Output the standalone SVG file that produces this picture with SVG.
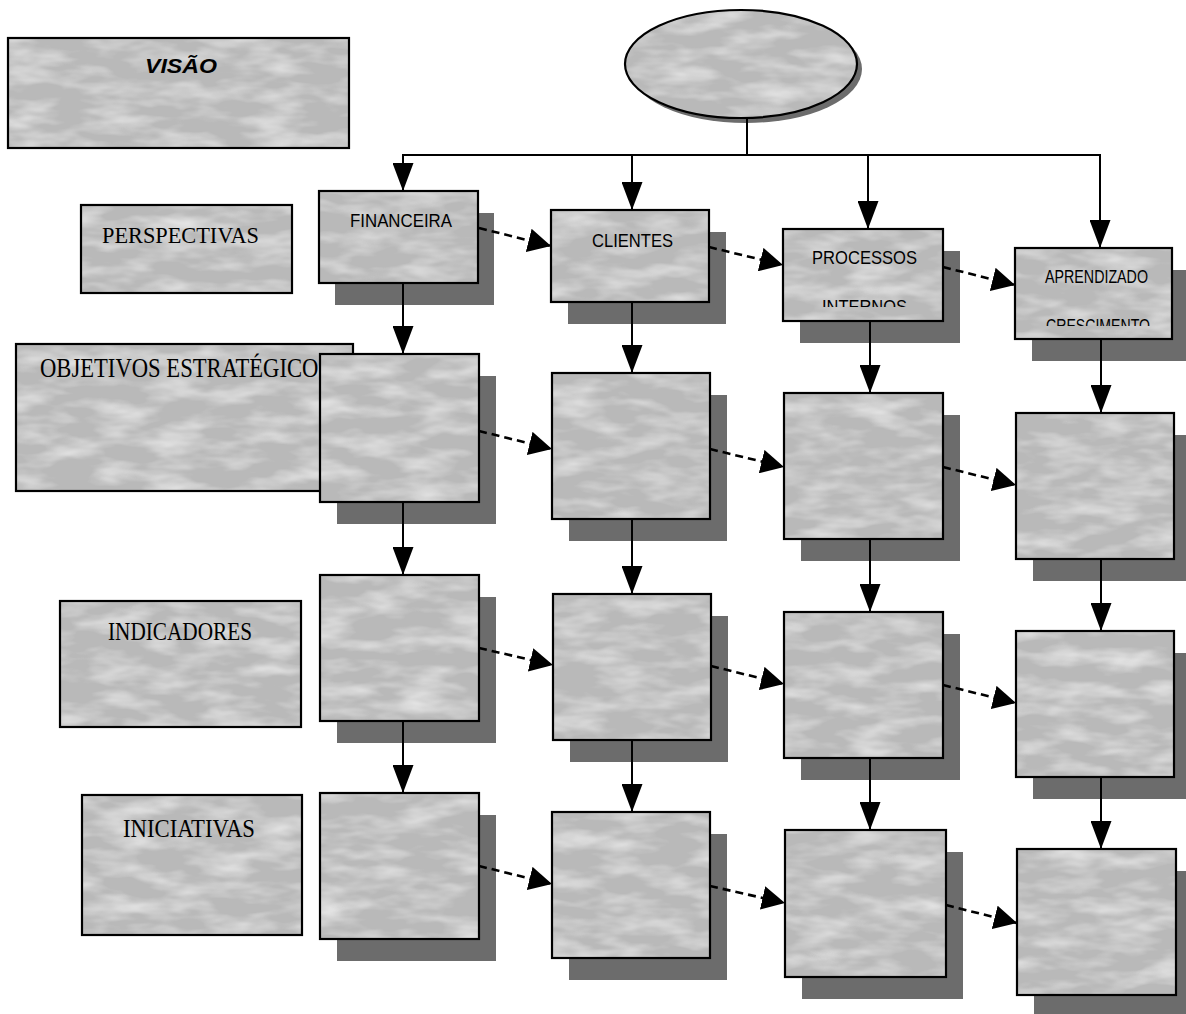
<svg xmlns="http://www.w3.org/2000/svg" width="1186" height="1014" viewBox="0 0 1186 1014">
<defs>
<style>
.face{fill:#b9b9b9;filter:url(#tex)}
.edge{fill:none;stroke:#000;stroke-width:2.2}
.sh{fill:#6c6c6c}
.lbl{font-family:"Liberation Serif","Times New Roman",serif;fill:#000}
.hdr{font-family:"Liberation Sans",Arial,sans-serif;font-size:19px;fill:#000}
.ln{stroke:#000;stroke-width:2;fill:none}
.dl{stroke:#000;stroke-width:2.6;fill:none;stroke-dasharray:8 5}
</style>
<filter id="tex" x="0" y="0" width="1" height="1">
<feTurbulence type="fractalNoise" baseFrequency="0.02 0.06" numOctaves="3" seed="7" result="n"/>
<feColorMatrix in="n" type="matrix" values="0 0 0 0 1 0 0 0 0 1 0 0 0 0 1 1.1 0 0 0 -0.45" result="w"/>
<feComposite in="w" in2="SourceGraphic" operator="in" result="wc"/>
<feMerge><feMergeNode in="SourceGraphic"/><feMergeNode in="wc"/></feMerge>
</filter>
<marker id="ah" markerUnits="userSpaceOnUse" viewBox="0 0 28 21" refX="28" refY="10.5" markerWidth="28" markerHeight="21" orient="auto">
<path d="M0,0 L28,10.5 L0,21 z" fill="#000"/>
</marker>
<marker id="ad" markerUnits="userSpaceOnUse" viewBox="0 0 23 24" refX="23" refY="12" markerWidth="23" markerHeight="24" orient="auto">
<path d="M0,0 L23,12 L0,24 z" fill="#000"/>
</marker>
<clipPath id="clipInt"><rect x="780" y="240" width="170" height="67"/></clipPath>
<clipPath id="clipCre"><rect x="1010" y="260" width="170" height="66"/></clipPath>
</defs>
<rect width="1186" height="1014" fill="#fff"/>

<!-- label boxes -->
<g id="visao">
<rect class="face" x="8" y="38" width="341" height="110"/>
<rect class="edge" x="8" y="38" width="341" height="110"/>
<text x="145" y="73" font-family="Liberation Sans,Arial,sans-serif" font-size="21" font-weight="bold" font-style="italic" textLength="72" lengthAdjust="spacingAndGlyphs">VISÃO</text>
</g>
<g id="lbl-perspectivas">
<rect class="face" x="81" y="205" width="211" height="88"/>
<rect class="edge" x="81" y="205" width="211" height="88"/>
<text class="lbl" x="102" y="243" font-size="24" textLength="157" lengthAdjust="spacingAndGlyphs">PERSPECTIVAS</text>
</g>
<g id="lbl-objetivos">
<rect class="face" x="16" y="344" width="337" height="147"/>
<rect class="edge" x="16" y="344" width="337" height="147"/>
<text class="lbl" x="40" y="377" font-size="27" textLength="291" lengthAdjust="spacingAndGlyphs">OBJETIVOS ESTRATÉGICOS</text>
</g>
<g id="lbl-indicadores">
<rect class="face" x="60" y="601" width="241" height="126"/>
<rect class="edge" x="60" y="601" width="241" height="126"/>
<text class="lbl" x="108" y="640" font-size="26" textLength="144" lengthAdjust="spacingAndGlyphs">INDICADORES</text>
</g>
<g id="lbl-iniciativas">
<rect class="face" x="82" y="795" width="220" height="140"/>
<rect class="edge" x="82" y="795" width="220" height="140"/>
<text class="lbl" x="123" y="837" font-size="26" textLength="132" lengthAdjust="spacingAndGlyphs">INICIATIVAS</text>
</g>

<!-- vision ellipse -->
<g id="vision-ellipse">
<ellipse class="sh" cx="746" cy="69" rx="116" ry="54"/>
<ellipse class="face" cx="741" cy="64" rx="116" ry="54"/>
<ellipse class="edge" cx="741" cy="64" rx="116" ry="54"/>
</g>

<!-- perspective row -->
<g id="financeira">
<rect class="sh" x="335" y="213" width="159" height="92"/>
<rect class="face" x="319" y="191" width="159" height="92"/>
<rect class="edge" x="319" y="191" width="159" height="92"/>
<text class="hdr" x="350" y="227" textLength="102" lengthAdjust="spacingAndGlyphs">FINANCEIRA</text>
</g>
<g id="clientes">
<rect class="sh" x="568" y="232" width="158" height="92"/>
<rect class="face" x="551" y="210" width="158" height="92"/>
<rect class="edge" x="551" y="210" width="158" height="92"/>
<text class="hdr" x="592" y="247" textLength="81" lengthAdjust="spacingAndGlyphs">CLIENTES</text>
</g>
<g id="processos">
<rect class="sh" x="800" y="251" width="160" height="92"/>
<rect class="face" x="783" y="229" width="160" height="92"/>
<rect class="edge" x="783" y="229" width="160" height="92"/>
<text class="hdr" x="812" y="264" textLength="105" lengthAdjust="spacingAndGlyphs">PROCESSOS</text>
<text class="hdr" x="822" y="313" textLength="85" lengthAdjust="spacingAndGlyphs" clip-path="url(#clipInt)">INTERNOS</text>
</g>
<g id="aprendizado">
<rect class="sh" x="1032" y="270" width="157" height="91"/>
<rect class="face" x="1015" y="248" width="157" height="91"/>
<rect class="edge" x="1015" y="248" width="157" height="91"/>
<text class="hdr" x="1045" y="283" textLength="103" lengthAdjust="spacingAndGlyphs">APRENDIZADO</text>
<text class="hdr" x="1046" y="332" textLength="104" lengthAdjust="spacingAndGlyphs" clip-path="url(#clipCre)">CRESCIMENTO</text>
</g>

<!-- objectives row -->
<g id="obj-1"><rect class="sh" x="337" y="376" width="159" height="148"/><rect class="face" x="320" y="354" width="159" height="148"/><rect class="edge" x="320" y="354" width="159" height="148"/></g>
<g id="obj-2"><rect class="sh" x="569" y="395" width="158" height="146"/><rect class="face" x="552" y="373" width="158" height="146"/><rect class="edge" x="552" y="373" width="158" height="146"/></g>
<g id="obj-3"><rect class="sh" x="801" y="415" width="159" height="146"/><rect class="face" x="784" y="393" width="159" height="146"/><rect class="edge" x="784" y="393" width="159" height="146"/></g>
<g id="obj-4"><rect class="sh" x="1033" y="435" width="158" height="146"/><rect class="face" x="1016" y="413" width="158" height="146"/><rect class="edge" x="1016" y="413" width="158" height="146"/></g>

<!-- indicators row -->
<g id="ind-1"><rect class="sh" x="337" y="597" width="159" height="146"/><rect class="face" x="320" y="575" width="159" height="146"/><rect class="edge" x="320" y="575" width="159" height="146"/></g>
<g id="ind-2"><rect class="sh" x="570" y="616" width="158" height="146"/><rect class="face" x="553" y="594" width="158" height="146"/><rect class="edge" x="553" y="594" width="158" height="146"/></g>
<g id="ind-3"><rect class="sh" x="801" y="634" width="159" height="146"/><rect class="face" x="784" y="612" width="159" height="146"/><rect class="edge" x="784" y="612" width="159" height="146"/></g>
<g id="ind-4"><rect class="sh" x="1033" y="653" width="158" height="146"/><rect class="face" x="1016" y="631" width="158" height="146"/><rect class="edge" x="1016" y="631" width="158" height="146"/></g>

<!-- initiatives row -->
<g id="ini-1"><rect class="sh" x="337" y="815" width="159" height="146"/><rect class="face" x="320" y="793" width="159" height="146"/><rect class="edge" x="320" y="793" width="159" height="146"/></g>
<g id="ini-2"><rect class="sh" x="569" y="834" width="158" height="146"/><rect class="face" x="552" y="812" width="158" height="146"/><rect class="edge" x="552" y="812" width="158" height="146"/></g>
<g id="ini-3"><rect class="sh" x="802" y="852" width="161" height="147"/><rect class="face" x="785" y="830" width="161" height="147"/><rect class="edge" x="785" y="830" width="161" height="147"/></g>
<g id="ini-4"><rect class="sh" x="1034" y="871" width="159" height="146"/><rect class="face" x="1017" y="849" width="159" height="146"/><rect class="edge" x="1017" y="849" width="159" height="146"/></g>

<!-- connectors -->
<g id="connectors">
<path class="ln" d="M747,118 V155 M402,155 H1101"/>
<line class="ln" x1="403" y1="155" x2="403" y2="191" marker-end="url(#ah)"/>
<line class="ln" x1="632" y1="155" x2="632" y2="210" marker-end="url(#ah)"/>
<line class="ln" x1="868" y1="155" x2="868" y2="229" marker-end="url(#ah)"/>
<line class="ln" x1="1100" y1="155" x2="1100" y2="248" marker-end="url(#ah)"/>

<line class="ln" x1="403" y1="283" x2="403" y2="354" marker-end="url(#ah)"/>
<line class="ln" x1="403" y1="502" x2="403" y2="575" marker-end="url(#ah)"/>
<line class="ln" x1="403" y1="721" x2="403" y2="793" marker-end="url(#ah)"/>
<line class="ln" x1="632" y1="302" x2="632" y2="373" marker-end="url(#ah)"/>
<line class="ln" x1="632" y1="519" x2="632" y2="594" marker-end="url(#ah)"/>
<line class="ln" x1="632" y1="740" x2="632" y2="812" marker-end="url(#ah)"/>
<line class="ln" x1="870" y1="321" x2="870" y2="393" marker-end="url(#ah)"/>
<line class="ln" x1="870" y1="539" x2="870" y2="612" marker-end="url(#ah)"/>
<line class="ln" x1="870" y1="758" x2="870" y2="830" marker-end="url(#ah)"/>
<line class="ln" x1="1101" y1="339" x2="1101" y2="413" marker-end="url(#ah)"/>
<line class="ln" x1="1101" y1="559" x2="1101" y2="631" marker-end="url(#ah)"/>
<line class="ln" x1="1101" y1="777" x2="1101" y2="849" marker-end="url(#ah)"/>

<line class="dl" x1="479" y1="228" x2="551" y2="246" marker-end="url(#ad)"/>
<line class="dl" x1="709" y1="247" x2="783" y2="265" marker-end="url(#ad)"/>
<line class="dl" x1="943" y1="267" x2="1015" y2="285" marker-end="url(#ad)"/>
<line class="dl" x1="479" y1="431" x2="552" y2="449" marker-end="url(#ad)"/>
<line class="dl" x1="710" y1="449" x2="784" y2="467" marker-end="url(#ad)"/>
<line class="dl" x1="943" y1="467" x2="1016" y2="485" marker-end="url(#ad)"/>
<line class="dl" x1="479" y1="648" x2="553" y2="665" marker-end="url(#ad)"/>
<line class="dl" x1="711" y1="666" x2="784" y2="684" marker-end="url(#ad)"/>
<line class="dl" x1="943" y1="685" x2="1016" y2="703" marker-end="url(#ad)"/>
<line class="dl" x1="479" y1="866" x2="552" y2="884" marker-end="url(#ad)"/>
<line class="dl" x1="710" y1="886" x2="785" y2="903" marker-end="url(#ad)"/>
<line class="dl" x1="946" y1="905" x2="1017" y2="923" marker-end="url(#ad)"/>
</g>
</svg>
